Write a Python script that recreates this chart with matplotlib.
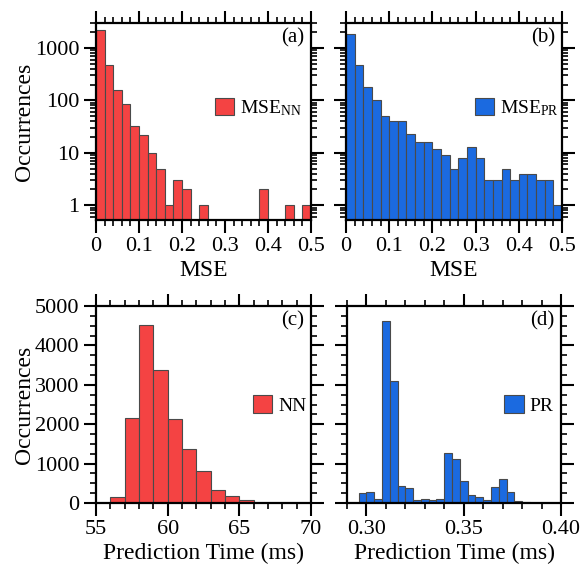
import numpy as np
import matplotlib
matplotlib.use('Agg')
import matplotlib.pyplot as plt
from matplotlib.ticker import MultipleLocator, LogLocator, NullFormatter, FormatStrFormatter

plt.rcParams['font.family'] = ['Liberation Serif', 'DejaVu Serif']
plt.rcParams['mathtext.fontset'] = 'custom'
plt.rcParams['mathtext.rm'] = 'Liberation Serif'
plt.rcParams['mathtext.it'] = 'Liberation Serif:italic'

# ---- data ----
mse_edges = np.arange(0, 0.5001, 0.02)
mse_nn = [2200, 468, 157, 85, 33, 22, 10, 5, 1, 3, 2, 0, 1,
          0, 0, 0, 0, 0, 0, 2, 0, 0, 1, 0, 1]
mse_pr = [1870, 468, 177, 101, 50, 41, 41, 23, 16, 16, 12, 9, 5,
          8, 13, 8, 3, 3, 5, 3, 4, 4, 3, 3, 1]

nn_edges = np.arange(56, 67, 1)
nn_time = [142, 2150, 4520, 3375, 2125, 1370, 800, 337, 167, 66]

pr_edges = 0.296 + 0.004 * np.arange(26)
pr_time = [262, 278, 93, 4608, 3089, 430, 380, 68, 93, 68, 93, 1274, 1105,
           565, 203, 152, 76, 413, 608, 270, 51, 15, 10, 8, 5]

RED = '#F44343'
BLUE = '#1B6AE0'
EDGE = '#4a4a4a'

fig = plt.figure(figsize=(5.82, 5.70), dpi=100)
W, H = 582, 570

def make_ax(left, top, right, bottom):
    return fig.add_axes([left / W, 1 - bottom / H, (right - left) / W, (bottom - top) / H])

ax_a = make_ax(96, 23, 311, 220)
ax_b = make_ax(346, 23, 562, 220)
ax_c = make_ax(96, 306, 311, 503)
ax_d = make_ax(347, 306, 561, 503)

LEG = dict(loc='center left', frameon=False, fontsize=14, handlelength=1.0,
           handleheight=1.0, handletextpad=0.3, borderpad=0, borderaxespad=0)

def style(ax):
    for s in ax.spines.values():
        s.set_linewidth(1.6)
    ax.tick_params(which='both', direction='out', top=True, right=True,
                   labelsize=16, width=1.5, pad=3)
    ax.tick_params(which='major', length=9)
    ax.tick_params(which='minor', length=4.5, width=1.2)

def draw_hist(ax, edges, counts, color, label):
    edges = np.asarray(edges)
    ax.bar(edges[:-1], counts, width=np.diff(edges), align='edge', color=color,
           edgecolor=EDGE, linewidth=0.8, label=label)

# (a) / (b): MSE histograms, log scale
for ax, counts, color, label, tag in [(ax_a, mse_nn, RED, r'MSE$_{\mathrm{NN}}$', '(a)'),
                                      (ax_b, mse_pr, BLUE, r'MSE$_{\mathrm{PR}}$', '(b)')]:
    vals = np.array(counts, dtype=float)
    lefts = mse_edges[:-1][vals > 0]
    ax.bar(lefts, vals[vals > 0], width=0.02, align='edge', color=color,
           edgecolor=EDGE, linewidth=0.8, label=label)
    ax.set_yscale('log')
    ax.set_ylim(0.52, 3000)
    ax.set_xlim(0, 0.5)
    ax.xaxis.set_major_locator(MultipleLocator(0.1))
    ax.xaxis.set_minor_locator(MultipleLocator(0.02))
    ax.xaxis.set_major_formatter(FormatStrFormatter('%g'))
    ax.yaxis.set_major_locator(LogLocator(base=10, numticks=10))
    ax.yaxis.set_minor_locator(LogLocator(base=10, subs=np.arange(2, 10), numticks=10))
    ax.yaxis.set_minor_formatter(NullFormatter())
    ax.yaxis.set_major_formatter(FormatStrFormatter('%g'))
    ax.set_xlabel('MSE', fontsize=17, labelpad=3)
    style(ax)
    ax.text(0.97, 0.925, tag, transform=ax.transAxes, ha='right', va='center', fontsize=15)

ax_a.set_ylabel('Occurrences', fontsize=17, labelpad=0)
ax_b.tick_params(labelleft=False)
ax_a.legend(bbox_to_anchor=(0.553, 0.57), **LEG)
ax_b.legend(bbox_to_anchor=(0.597, 0.57), **LEG)

# (c) NN prediction time
draw_hist(ax_c, nn_edges, nn_time, RED, 'NN')
ax_c.set_xlim(55, 70)
ax_c.set_ylim(0, 5000)
ax_c.xaxis.set_major_locator(MultipleLocator(5))
ax_c.xaxis.set_minor_locator(MultipleLocator(1))
ax_c.yaxis.set_major_locator(MultipleLocator(1000))
ax_c.yaxis.set_minor_locator(MultipleLocator(250))
ax_c.set_ylabel('Occurrences', fontsize=17, labelpad=0)
ax_c.set_xlabel('Prediction Time (ms)', fontsize=17, labelpad=3)
style(ax_c)
ax_c.text(0.97, 0.925, '(c)', transform=ax_c.transAxes, ha='right', va='center', fontsize=15)
ax_c.legend(bbox_to_anchor=(0.729, 0.497), **LEG)

# (d) PR prediction time
draw_hist(ax_d, pr_edges, pr_time, BLUE, 'PR')
ax_d.set_xlim(0.29, 0.40)
ax_d.set_ylim(0, 5000)
ax_d.xaxis.set_major_locator(MultipleLocator(0.05))
ax_d.xaxis.set_minor_locator(MultipleLocator(0.01))
ax_d.xaxis.set_major_formatter(FormatStrFormatter('%.2f'))
ax_d.yaxis.set_major_locator(MultipleLocator(1000))
ax_d.yaxis.set_minor_locator(MultipleLocator(250))
ax_d.set_xlabel('Prediction Time (ms)', fontsize=17, labelpad=3)
style(ax_d)
ax_d.tick_params(labelleft=False)
ax_d.text(0.97, 0.925, '(d)', transform=ax_d.transAxes, ha='right', va='center', fontsize=15)
ax_d.legend(bbox_to_anchor=(0.734, 0.497), **LEG)

fig.savefig('out.png', dpi=100)
